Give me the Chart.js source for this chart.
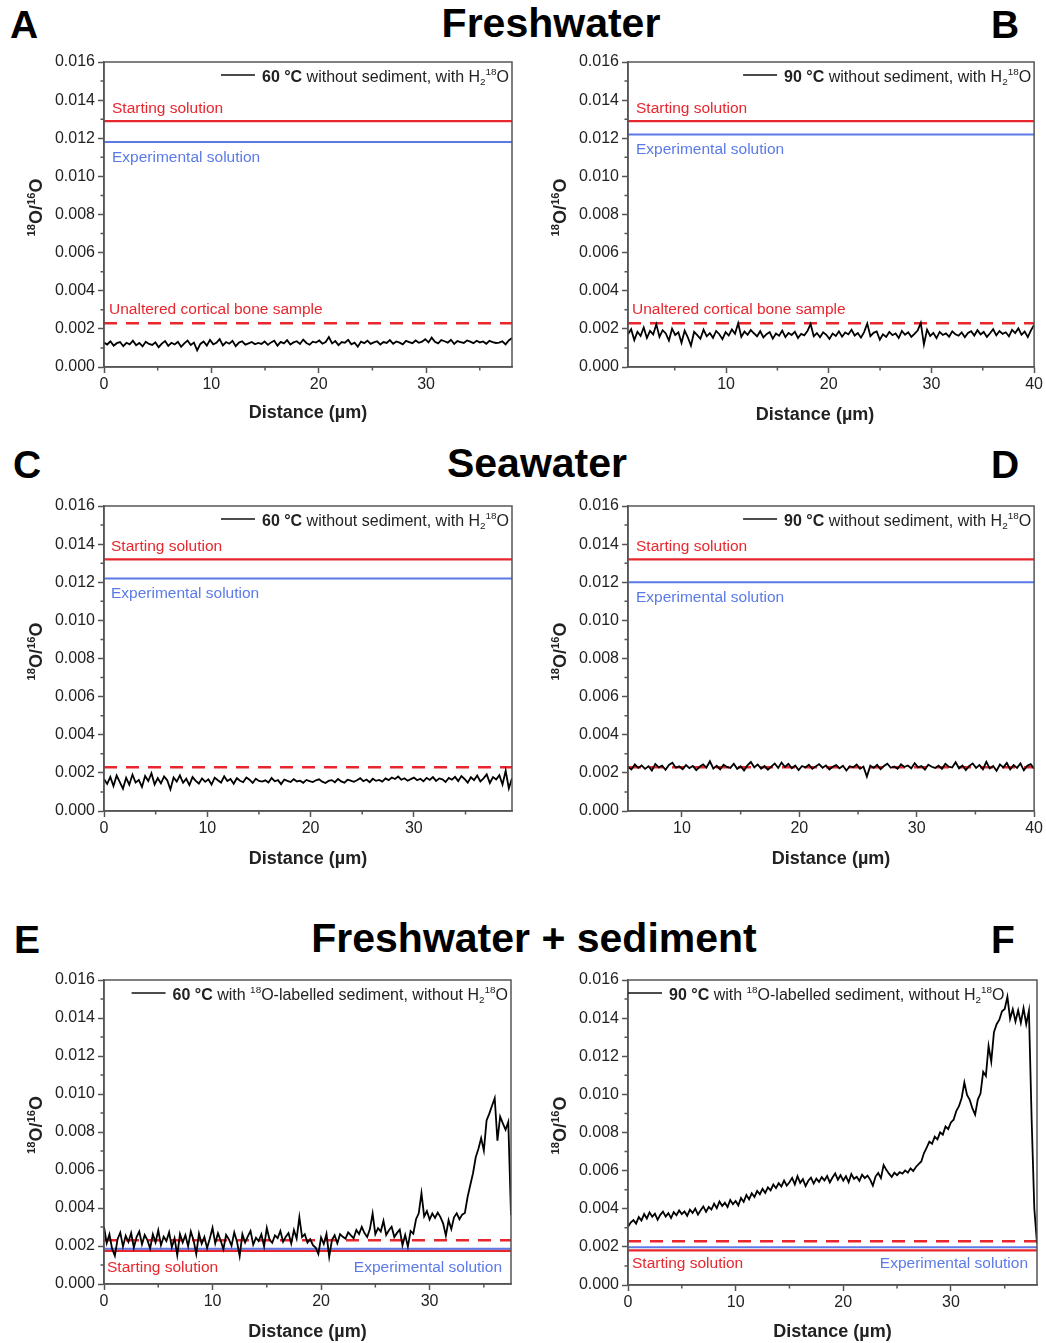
<!DOCTYPE html>
<html lang="en">
<head>
<meta charset="utf-8">
<title>18O/16O distance profiles</title>
<script src="https://cdn.jsdelivr.net/npm/chart.js@4.4.1/dist/chart.umd.min.js"></script>
<style>
  html, body { margin: 0; padding: 0; background: #fff; }
  #fig { position: relative; width: 1046px; height: 1343px; overflow: hidden; font-family: "Liberation Sans", Arial, sans-serif; color: #000; }
  .hdr { position: absolute; font-size: 39px; font-weight: bold; line-height: 39px; white-space: nowrap; }
  .mid { transform: translateX(-50%); font-size: 41px; line-height: 41px; }
  .plot { position: absolute; }
</style>
</head>
<body>
<div id="fig">
  <div class="hdr" style="left:10px;top:5px">A</div>
  <div class="hdr mid" style="left:551px;top:3px">Freshwater</div>
  <div class="hdr" style="left:991px;top:5px">B</div>
  <div class="hdr" style="left:13px;top:445px">C</div>
  <div class="hdr mid" style="left:537px;top:443px">Seawater</div>
  <div class="hdr" style="left:991px;top:445px">D</div>
  <div class="hdr" style="left:14px;top:920px">E</div>
  <div class="hdr mid" style="left:534px;top:918px">Freshwater + sediment</div>
  <div class="hdr" style="left:991px;top:920px">F</div>
</div>
<script>
const FONT = '"Liberation Sans", Arial, sans-serif';
const RED = '#e8262d';
const BLUE = '#5b7ae8';
const INK = '#222';
const AXIS = '#555';

// ---- data ----
const panelIds = ['A', 'B', 'C', 'D', 'E', 'F'];
const tempLabel = ['60 °C', '90 °C', '60 °C', '90 °C', '60 °C', '90 °C'];
// distance covered by each profile (µm)
const distMin = [0, 0.45, 0, 5.4, 0, 0];
const distMax = [38, 40, 39.5, 40, 37.5, 38];
// reference 18O/16O levels
const startLevel = [0.0129, 0.0129, 0.0132, 0.0132, 0.00175, 0.00182];
const expLevel = [0.0118, 0.0122, 0.0122, 0.0120, 0.00186, 0.00198];
const boneLevel = [0.0023, 0.0023, 0.0023, 0.0023, 0.0023, 0.0023];
// axis ticks
const distTicks = [0, 10, 20, 30, 40];
const distMinor = [5, 15, 25, 35];
const ratioTicks = [0, 0.002, 0.004, 0.006, 0.008, 0.010, 0.012, 0.014, 0.016];
const ratioMinor = [0.001, 0.003, 0.005, 0.007, 0.009, 0.011, 0.013, 0.015];

// measured 18O/16O profiles, evenly sampled between distMin and distMax
const profileA = [
  0.00128, 0.00118, 0.00135, 0.00112, 0.00125, 0.00131, 0.00109, 0.00127, 0.00119, 0.00138,
  0.00114, 0.00126, 0.00108, 0.00133, 0.00121, 0.00116, 0.00129, 0.00104, 0.00123, 0.00136,
  0.00111, 0.00127, 0.00118, 0.00132, 0.00106, 0.00124, 0.00139, 0.00115, 0.00128, 0.00087,
  0.00121, 0.00134, 0.00112, 0.00142, 0.00119, 0.00127, 0.00146, 0.00113, 0.00131, 0.00122,
  0.00137, 0.00109, 0.00128, 0.00135, 0.00117, 0.00124, 0.00131, 0.00119, 0.00126, 0.00121,
  0.00134, 0.00116, 0.00129, 0.00138, 0.00112, 0.00132, 0.00124, 0.00141, 0.00118, 0.00129,
  0.00135, 0.00121, 0.00144, 0.00126, 0.00117, 0.00133, 0.00128, 0.00139, 0.00122, 0.00131,
  0.00157, 0.00124, 0.00136, 0.00115, 0.00131, 0.00127, 0.00142, 0.00119, 0.00128, 0.00106,
  0.00133, 0.00125, 0.00138, 0.00121, 0.00129, 0.00135, 0.00118, 0.00131, 0.00126, 0.00141,
  0.00122, 0.00134, 0.00128, 0.00119, 0.00137, 0.00131, 0.00125, 0.00139, 0.00127, 0.00133,
  0.00146, 0.00129, 0.00154, 0.00132, 0.00124, 0.00141, 0.00135, 0.00128, 0.00143, 0.00121,
  0.00136, 0.00131, 0.00126, 0.00139, 0.00133, 0.00125, 0.00138, 0.00129, 0.00134, 0.00122,
  0.00137, 0.00131, 0.00126, 0.00128, 0.00135, 0.00119, 0.00139, 0.00152
];
const profileB = [
  0.00172, 0.00198, 0.00141, 0.00185, 0.00163, 0.00207, 0.00152, 0.00189, 0.00171, 0.00224,
  0.00158, 0.00193, 0.00176, 0.00139, 0.00201, 0.00168, 0.00182, 0.00127, 0.00191, 0.00156,
  0.00112, 0.00184, 0.00167, 0.00148, 0.00196, 0.00161, 0.00178, 0.00153, 0.00189, 0.00172,
  0.00146, 0.00183, 0.00165, 0.00197, 0.00174, 0.00229, 0.00158, 0.00186, 0.00169, 0.00194,
  0.00177, 0.00161, 0.00188, 0.00155, 0.00172, 0.00183, 0.00149, 0.00176, 0.00164, 0.00191,
  0.00157, 0.00179, 0.00168, 0.00185, 0.00152, 0.00174, 0.00166, 0.00188, 0.00226, 0.00161,
  0.00178, 0.00156, 0.00182, 0.00169, 0.00147, 0.00175, 0.00163, 0.00187, 0.00159, 0.00181,
  0.00171, 0.00196, 0.00165, 0.00178, 0.00154, 0.00183, 0.00228, 0.00162, 0.00179, 0.00186,
  0.00143, 0.00171, 0.00158, 0.00184, 0.00167, 0.00176, 0.00152, 0.00189, 0.00169, 0.00182,
  0.00158, 0.00174, 0.00191, 0.00231, 0.00118, 0.00196, 0.00163, 0.00179, 0.00151, 0.00184,
  0.00168, 0.00176, 0.00159, 0.00187, 0.00172, 0.00164, 0.00181, 0.00156, 0.00179, 0.00188,
  0.00165, 0.00193, 0.00171, 0.00184, 0.00158, 0.00177, 0.00198, 0.00166, 0.00189, 0.00174,
  0.00182, 0.00161, 0.00195, 0.00178, 0.00203, 0.00169, 0.00186, 0.00157, 0.00192, 0.00221
];
const profileC = [
  0.00168, 0.00142, 0.00179, 0.00131, 0.00186, 0.00152, 0.00117, 0.00174, 0.00138, 0.00191,
  0.00149, 0.00163, 0.00126, 0.00184, 0.00157, 0.00198, 0.00139, 0.00172, 0.00145, 0.00181,
  0.00161, 0.00113, 0.00176, 0.00154, 0.00187, 0.00148, 0.00169, 0.00136, 0.00178, 0.00158,
  0.00144, 0.00171, 0.00153, 0.00166, 0.00139, 0.00175, 0.00161, 0.00149, 0.00182, 0.00157,
  0.00168, 0.00143, 0.00172, 0.00159, 0.00151, 0.00176, 0.00164, 0.00147, 0.00169, 0.00158,
  0.00154, 0.00161, 0.00149, 0.00173, 0.00156, 0.00162, 0.00141, 0.00165, 0.00158, 0.00152,
  0.00167, 0.00155, 0.00159, 0.00148, 0.00163, 0.00157, 0.00152, 0.00161, 0.00166, 0.00154,
  0.00147, 0.00158, 0.00162, 0.00151, 0.00168, 0.00155, 0.00149, 0.00164, 0.00159, 0.00153,
  0.00161, 0.00172, 0.00156, 0.00165, 0.00151, 0.00169, 0.00158, 0.00163, 0.00154, 0.00171,
  0.00162, 0.00176, 0.00168, 0.00181, 0.00164, 0.00172, 0.00159, 0.00167, 0.00175, 0.00161,
  0.00169, 0.00156, 0.00174, 0.00163, 0.00178, 0.00158, 0.00171, 0.00166, 0.00152, 0.00173,
  0.00164, 0.00179, 0.00157, 0.00183, 0.00168, 0.00149, 0.00177, 0.00162, 0.00186, 0.00155,
  0.00171, 0.00192, 0.00147, 0.00178, 0.00165, 0.00188, 0.00139, 0.00211, 0.00118, 0.00172
];
const profileD = [
  0.00231, 0.00218, 0.00244, 0.00226, 0.00239, 0.00221, 0.00235, 0.00212, 0.00247, 0.00229,
  0.00238, 0.00216, 0.00242, 0.00253, 0.00227, 0.00234, 0.00219, 0.00241, 0.00225, 0.00236,
  0.00214, 0.00232, 0.00245, 0.00228, 0.00261, 0.00223, 0.00237, 0.00218, 0.00243, 0.00231,
  0.00226, 0.00248, 0.00221, 0.00235, 0.00213, 0.00239, 0.00257, 0.00229, 0.00244, 0.00222,
  0.00236, 0.00217, 0.00233, 0.00249, 0.00226, 0.00254, 0.00231, 0.00247, 0.00224, 0.00238,
  0.00215, 0.00236, 0.00228, 0.00243, 0.00221, 0.00234, 0.00246, 0.00227, 0.00239, 0.00218,
  0.00232, 0.00241, 0.00224, 0.00237, 0.00212, 0.00235, 0.00229, 0.00244, 0.00221, 0.00233,
  0.00181, 0.00238, 0.00226, 0.00242, 0.00219, 0.00236, 0.00248, 0.00227, 0.00234, 0.00222,
  0.00245, 0.00231, 0.00239, 0.00224, 0.00251, 0.00229, 0.00236, 0.00217, 0.00243, 0.00232,
  0.00226, 0.00238, 0.00221, 0.00247, 0.00233, 0.00228, 0.00256, 0.00224, 0.00239, 0.00215,
  0.00237, 0.00249, 0.00226, 0.00241, 0.00219, 0.00258, 0.00223, 0.00236, 0.00211, 0.00244,
  0.00229, 0.00252, 0.00218, 0.00241, 0.00226, 0.00249, 0.00213, 0.00237, 0.00246, 0.00222
];
const profileE = [
  0.00300, 0.00215, 0.00262, 0.00185, 0.00148, 0.00236, 0.00271, 0.00198, 0.00254, 0.00221,
  0.00268, 0.00192, 0.00247, 0.00276, 0.00209, 0.00258, 0.00231, 0.00187, 0.00262, 0.00219,
  0.00283, 0.00205, 0.00249, 0.00226, 0.00272, 0.00194, 0.00241, 0.00152, 0.00263, 0.00218,
  0.00257, 0.00199, 0.00276, 0.00231, 0.00158, 0.00265, 0.00212, 0.00248, 0.00189, 0.00239,
  0.00296, 0.00214, 0.00267, 0.00229, 0.00183, 0.00258, 0.00236, 0.00202, 0.00271, 0.00224,
  0.00147, 0.00262, 0.00218, 0.00251, 0.00279, 0.00207, 0.00243, 0.00226, 0.00262, 0.00198,
  0.00295, 0.00234, 0.00217, 0.00256, 0.00241, 0.00279, 0.00222, 0.00249, 0.00268, 0.00213,
  0.00284, 0.00239, 0.00352, 0.00247, 0.00262, 0.00218, 0.00236, 0.00204, 0.00192, 0.00158,
  0.00245, 0.00211, 0.00264, 0.00143, 0.00231, 0.00257, 0.00214, 0.00262, 0.00248, 0.00239,
  0.00272, 0.00256, 0.00241, 0.00284, 0.00263, 0.00301, 0.00268, 0.00247, 0.00289, 0.00371,
  0.00262, 0.00294, 0.00276, 0.00332, 0.00258, 0.00283, 0.00301, 0.00247, 0.00269, 0.00286,
  0.00204, 0.00258, 0.00197, 0.00279, 0.00265, 0.00341, 0.00372, 0.00478, 0.00356, 0.00384,
  0.00339, 0.00371, 0.00348, 0.00376, 0.00352, 0.00318, 0.00254, 0.00336, 0.00289, 0.00351,
  0.00372, 0.00341, 0.00365, 0.00374, 0.00458, 0.00521, 0.00583, 0.00667, 0.00712, 0.00768,
  0.00702, 0.00861, 0.00897, 0.00938, 0.00978, 0.00754, 0.00881, 0.00845, 0.00812, 0.00853,
  0.00362
];
const profileF = [
  0.00305, 0.00328, 0.00341, 0.00322, 0.00356, 0.00338, 0.00372, 0.00349, 0.00381, 0.00358,
  0.00374, 0.00342, 0.00368, 0.00385, 0.00359, 0.00377, 0.00351, 0.00382, 0.00366, 0.00391,
  0.00372, 0.00386, 0.00363, 0.00395, 0.00378, 0.00401, 0.00369, 0.00392, 0.00412, 0.00384,
  0.00409, 0.00396, 0.00427, 0.00403, 0.00438, 0.00415, 0.00431, 0.00409, 0.00446, 0.00424,
  0.00441, 0.00418, 0.00457, 0.00436, 0.00472, 0.00449, 0.00481, 0.00462, 0.00493, 0.00476,
  0.00505, 0.00483, 0.00512, 0.00496, 0.00527, 0.00508, 0.00534, 0.00516, 0.00548, 0.00521,
  0.00539, 0.00562, 0.00528, 0.00571, 0.00536, 0.00555, 0.00519, 0.00547, 0.00563, 0.00532,
  0.00558, 0.00541, 0.00566, 0.00549, 0.00572, 0.00538, 0.00564, 0.00585, 0.00552, 0.00576,
  0.00548, 0.00571, 0.00539, 0.00582, 0.00557, 0.00568, 0.00546, 0.00579, 0.00561, 0.00574,
  0.00553, 0.00521, 0.00569, 0.00588, 0.00561, 0.00629, 0.00604, 0.00584, 0.00567, 0.00589,
  0.00576, 0.00592, 0.00584, 0.00601, 0.00589, 0.00612, 0.00598, 0.00619, 0.00634, 0.00648,
  0.00692, 0.00721, 0.00752, 0.00741, 0.00778, 0.00764, 0.00801, 0.00789, 0.00832, 0.00818,
  0.00853, 0.00867, 0.00912, 0.00938, 0.00981, 0.01062, 0.00997, 0.00971, 0.00926, 0.00894,
  0.00973, 0.01004, 0.01118, 0.01096, 0.01254, 0.01172, 0.01326, 0.01368, 0.01392, 0.01436,
  0.01448, 0.01512, 0.01396, 0.01447, 0.01382, 0.01441, 0.01375, 0.01452, 0.01368, 0.01438,
  0.00872, 0.00401, 0.00218
];
const profiles = [profileA, profileB, profileC, profileD, profileE, profileF];

// ---- page layout: plot frame [left, top, right, bottom] in page px ----
const frames = [
  [104, 62, 512, 367], [628, 62, 1035, 367],
  [104, 506, 512, 811], [628, 506, 1035, 811],
  [104, 980, 511, 1284], [628, 980, 1037, 1285]
];
const xTitleGap = [51, 53, 53, 53, 53, 52];
const xTitleShift = [0, -16, 0, 0, 0, 0];

const noSedRuns = t => [{ t, b: 1 }, { t: ' without sediment, with H' }, { t: '2', sub: 1 }, { t: '18', sup: 1 }, { t: 'O' }];
const sedRuns = t => [{ t, b: 1 }, { t: ' with ' }, { t: '18', sup: 1 }, { t: 'O-labelled sediment, without H' }, { t: '2', sub: 1 }, { t: '18', sup: 1 }, { t: 'O' }];
const yTitleRuns = [{ t: '18', sup: 1, b: 1 }, { t: 'O/', b: 1 }, { t: '16', sup: 1, b: 1 }, { t: 'O', b: 1 }];

// text labels for the reference lines: [text, colour, level, dy from line, align, inset]
function notesFor(i) {
  if (i >= 4) return [
    ['Starting solution', RED, startLevel[i], i === 4 ? 21 : 18, 'left', i === 4 ? 3 : 4],
    ['Experimental solution', BLUE, startLevel[i], i === 4 ? 21 : 18, 'right', 9]
  ];
  const n = [
    ['Starting solution', RED, startLevel[i], -8, 'left', i === 2 ? 7 : 8],
    ['Experimental solution', BLUE, expLevel[i], 20, 'left', i === 2 ? 7 : 8]
  ];
  if (i < 2) n.push(['Unaltered cortical bone sample', RED, boneLevel[i], -9, 'left', i === 0 ? 5 : 4]);
  return n;
}

function drawRuns(ctx, runs, x, y, size) {
  let cx = x;
  runs.forEach(r => {
    const fs = (r.sub || r.sup) ? size * 0.62 : size;
    ctx.font = (r.b ? 'bold ' : '') + fs + 'px ' + FONT;
    const dy = r.sub ? size * 0.22 : r.sup ? -size * 0.4 : 0;
    ctx.fillText(r.t, cx, y + dy);
    cx += ctx.measureText(r.t).width;
  });
  return cx - x;
}
function runsWidth(ctx, runs, size) {
  ctx.save();
  ctx.globalAlpha = 0;
  const w = drawRuns(ctx, runs, 0, 0, size);
  ctx.restore();
  return w;
}

const decor = {
  id: 'decor',
  afterDraw(chart, args, o) {
    const { ctx, chartArea: a, scales: { x, y } } = chart;
    ctx.save();
    // closed frame
    ctx.strokeStyle = AXIS;
    ctx.lineWidth = 1.5;
    ctx.strokeRect(a.left, a.top, a.right - a.left, a.bottom - a.top);
    // short minor ticks
    ctx.beginPath();
    x.ticks.forEach(t => {
      if (distTicks.includes(t.value)) return;
      const px = x.getPixelForValue(t.value);
      ctx.moveTo(px, a.bottom); ctx.lineTo(px, a.bottom + 3.5);
    });
    y.ticks.forEach(t => {
      if (ratioTicks.includes(t.value)) return;
      const py = y.getPixelForValue(t.value);
      ctx.moveTo(a.left, py); ctx.lineTo(a.left - 3.5, py);
    });
    ctx.stroke();

    // reference line labels
    ctx.textBaseline = 'alphabetic';
    ctx.font = '15.5px ' + FONT;
    o.notes.forEach(([text, color, lvl, dy, align, inset]) => {
      ctx.fillStyle = color;
      ctx.textAlign = align;
      ctx.fillText(text, align === 'left' ? a.left + inset : a.right - inset, y.getPixelForValue(lvl) + dy);
    });

    // legend
    ctx.textAlign = 'left';
    ctx.fillStyle = INK;
    const tw = runsWidth(ctx, o.legend, 16);
    const tx = o.legendLeft ? a.left + 41 : a.right - 3 - tw;
    ctx.strokeStyle = '#111';
    ctx.lineWidth = 1.5;
    ctx.beginPath();
    ctx.moveTo(tx - 41, a.top + 13); ctx.lineTo(tx - 7, a.top + 13);
    ctx.stroke();
    drawRuns(ctx, o.legend, tx, a.top + 19.5, 16);

    // axis titles
    ctx.textAlign = 'center';
    ctx.font = 'bold 18px ' + FONT;
    ctx.fillText('Distance (µm)', (a.left + a.right) / 2 + o.xShift, a.bottom + o.xGap);
    ctx.textAlign = 'left';
    ctx.translate(a.left - 62, (a.top + a.bottom) / 2 - 7);
    ctx.rotate(-Math.PI / 2);
    const yw = runsWidth(ctx, yTitleRuns, 18);
    drawRuns(ctx, yTitleRuns, -yw / 2, 0, 18);
    ctx.restore();
  }
};

function series(values, lo, hi) {
  const step = (hi - lo) / (values.length - 1);
  return values.map((v, i) => ({ x: lo + i * step, y: v }));
}
function flat(v, lo, hi) { return [{ x: lo, y: v }, { x: hi, y: v }]; }
function pick(list, minor) {
  return s => {
    s.ticks = list.concat(minor)
      .filter(v => v >= s.min - 1e-9 && v <= s.max + 1e-9)
      .sort((p, q) => p - q)
      .map(v => ({ value: v }));
  };
}

const fig = document.getElementById('fig');
panelIds.forEach((id, i) => {
  const [l, t, r, b] = frames[i];
  const W = r - l + 110, H = b - t + 90;
  const box = document.createElement('div');
  box.className = 'plot';
  box.style.left = (l - 100) + 'px';
  box.style.top = (t - 20) + 'px';
  const cv = document.createElement('canvas');
  cv.id = 'chart' + id;
  cv.width = W; cv.height = H;
  cv.style.width = W + 'px'; cv.style.height = H + 'px';
  box.appendChild(cv);
  fig.appendChild(box);

  const lo = distMin[i], hi = distMax[i];
  const tickFont = { family: FONT, size: 16 };
  new Chart(cv, {
    type: 'line',
    data: {
      datasets: [
        { label: tempLabel[i], data: series(profiles[i], lo, hi), borderColor: '#000', borderWidth: 1.8, pointRadius: 0, tension: 0 },
        { label: 'Unaltered cortical bone sample', data: flat(boneLevel[i], lo, hi), borderColor: RED, borderWidth: 2.5, borderDash: [13, 9], pointRadius: 0 },
        { label: 'Experimental solution', data: flat(expLevel[i], lo, hi), borderColor: BLUE, borderWidth: 2, pointRadius: 0 },
        { label: 'Starting solution', data: flat(startLevel[i], lo, hi), borderColor: RED, borderWidth: 2.3, pointRadius: 0 }
      ]
    },
    options: {
      responsive: false,
      animation: false,
      events: [],
      layout: { padding: { top: 20, right: 10, left: 0, bottom: 0 } },
      plugins: {
        legend: { display: false },
        tooltip: { enabled: false },
        decor: {
          notes: notesFor(i),
          legend: i >= 4 ? sedRuns(tempLabel[i]) : noSedRuns(tempLabel[i]),
          legendLeft: i === 5,
          xGap: xTitleGap[i],
          xShift: xTitleShift[i]
        }
      },
      scales: {
        x: {
          type: 'linear', min: lo, max: hi,
          afterBuildTicks: pick(distTicks, distMinor),
          afterFit: s => { s.height = 70; },
          ticks: { autoSkip: false, maxRotation: 0, padding: 2, color: INK, font: tickFont, callback: v => distTicks.includes(v) ? String(v) : '' },
          grid: { drawOnChartArea: false, tickLength: 6, tickWidth: 1.5, tickColor: c => (c.tick && !distTicks.includes(c.tick.value)) ? 'rgba(0,0,0,0)' : AXIS },
          border: { color: AXIS, width: 1.5 }
        },
        y: {
          type: 'linear', min: 0, max: 0.016,
          afterBuildTicks: pick(ratioTicks, ratioMinor),
          afterFit: s => { s.width = 100; },
          ticks: { autoSkip: false, padding: 3, color: INK, font: tickFont, callback: v => ratioTicks.includes(v) ? v.toFixed(3) : '' },
          grid: { drawOnChartArea: false, tickLength: 6, tickWidth: 1.5, tickColor: c => (c.tick && !ratioTicks.includes(c.tick.value)) ? 'rgba(0,0,0,0)' : AXIS },
          border: { color: AXIS, width: 1.5 }
        }
      }
    },
    plugins: [decor]
  });
});
</script>
</body>
</html>
